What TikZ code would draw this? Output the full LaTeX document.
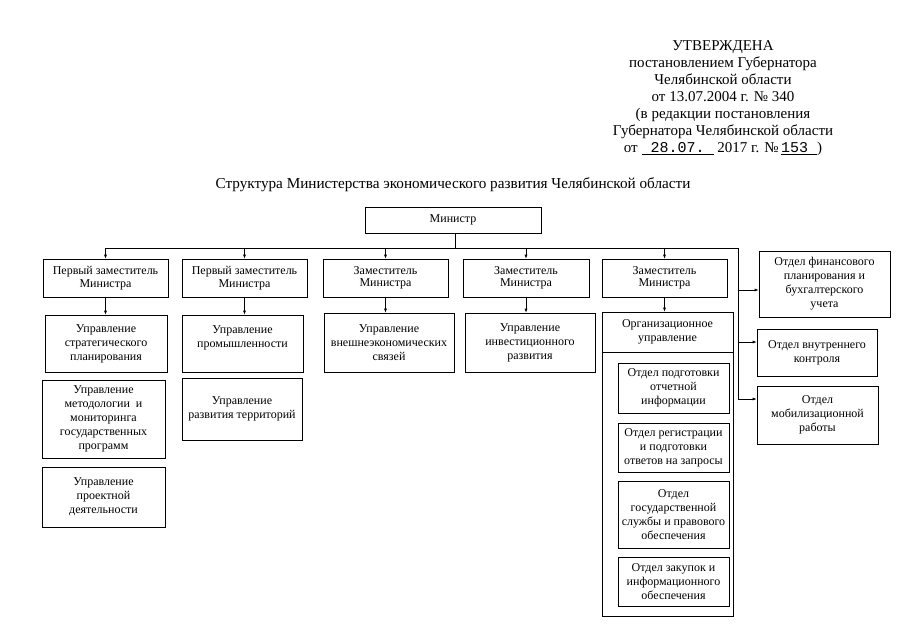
\documentclass[tikz,border=0pt]{standalone}
\usepackage{fontspec}
\setmainfont{Liberation Serif}
\setmonofont{Liberation Mono}
\usetikzlibrary{arrows.meta}
\tikzset{
    every node/.style={align=center, font=\fontsize{12}{14}\selectfont}
}
\tikzset{
    box/.style={draw, line width=0.6pt, inner sep=1pt}
}
\tikzset{
    every path/.append style={line width=0.6pt}
}

\begin{document}
\begin{tikzpicture}[x=1pt, y=-1pt, >={Latex[length=4pt,width=3pt]}]
	\useasboundingbox (0,0) rectangle (905,640);
	\node (head) [font=\fontsize{15}{17}\selectfont] at (723,98.5) {УТВЕРЖДЕНА\\ постановлением Губернатора\\ Челябинской области\\ от 13.07.2004 г. № 340\\ (в редакции постановления\\ Губернатора Челябинской области\\ от \underline{\texttt{\ 28.07.\ }} 2017 г. №\,\underline{\texttt{153\ }})};
	\node (title) [font=\fontsize{15.2}{17}\selectfont] at (453,185) {Структура Министерства экономического развития Челябинской области};

	\node (min) [box, minimum width=176, minimum height=26] at (453,220) {Министр};

	\node (d1) [box, minimum width=125, minimum height=38, font=\fontsize{12}{12.5}\selectfont] at (105.5,278) {Первый заместитель\\ Министра};
	\node (d2) [box, minimum width=125, minimum height=38, font=\fontsize{12}{12.5}\selectfont] at (244.5,278) {Первый заместитель\\ Министра};
	\node (d3) [box, minimum width=125, minimum height=38, font=\fontsize{12}{12.5}\selectfont] at (385.5,278) {Заместитель\\ Министра};
	\node (d4) [box, minimum width=126, minimum height=38, font=\fontsize{12}{12.5}\selectfont] at (526,278) {Заместитель\\ Министра};
	\node (d5) [box, minimum width=125, minimum height=38, font=\fontsize{12}{12.5}\selectfont] at (664.5,278) {Заместитель\\ Министра};

	\node (u11) [box, minimum width=122, minimum height=57] at (106,343.5) {Управление\\ стратегического\\ планирования};
	\node (u12) [box, minimum width=123, minimum height=78] at (103.5,419) {Управление\\ методологии~ и\\ мониторинга\\ государственных\\ программ};
	\node (u13) [box, minimum width=123, minimum height=60] at (103.5,497) {Управление\\ проектной\\ деятельности};
	\node (u21) [box, minimum width=121, minimum height=57] at (242.5,343.5) {Управление\\ промышленности\\ ~};
	\node (u22) [box, minimum width=120, minimum height=62] at (242,409) {Управление\\ развития территорий};
	\node (u31) [box, minimum width=130, minimum height=59] at (389,342.5) {Управление\\ внешнеэкономических\\ связей};
	\node (u41) [box, minimum width=130, minimum height=59] at (530,342.5) {Управление\\ инвестиционного\\ развития};

	\node (orgbox) [box, minimum width=131, minimum height=304] at (667.5,464) {};
	\node (org) [minimum width=131, minimum height=40] at (667.5,332) {Организационное\\ управление};
	\node (o1) [box, minimum width=111, minimum height=50] at (673.5,388) {Отдел подготовки\\ отчетной\\ информации};
	\node (o2) [box, minimum width=111, minimum height=49] at (673.5,447.5) {Отдел регистрации\\ и подготовки\\ ответов на запросы};
	\node (o3) [box, minimum width=111, minimum height=67] at (673.5,514.5) {Отдел\\ государственной\\ службы и правового\\ обеспечения};
	\node (o4) [box, minimum width=111, minimum height=49] at (673.5,581.5) {Отдел закупок и\\ информационного\\ обеспечения};

	\node (fin) [box, minimum width=131, minimum height=66] at (824.5,284) {Отдел финансового\\ планирования и\\ бухгалтерского\\ учета};
	\node (ctrl) [box, minimum width=120, minimum height=47] at (817,352.5) {Отдел внутреннего\\ контроля};
	\node (mob) [box, minimum width=121, minimum height=58] at (817.5,415) {Отдел\\ мобилизационной\\ работы};

	\coordinate (j) at (455,248);
	\coordinate (r) at (738,248);
	\coordinate (r1) at (738,290);
	\coordinate (r2) at (738,342);
	\coordinate (r3) at (738,399);

	\draw (org.south west) -- (org.south east);
	\draw (min.south -| j) -- (j) -- (r) -- (r3);
	\draw[->] (j) -| (d1.north); \draw[->] (j) -| (d2.north); \draw[->] (j) -| (d3.north);
	\draw[->] (j) -| (d4.north); \draw[->] (j) -| (d5.north);

	\draw[->] (d1.south) -- (d1.south |- u11.north); \draw[->] (d2.south) -- (d2.south |- u21.north);
	\draw[->] (d3.south) -- (d3.south |- u31.north); \draw[->] (d4.south) -- (d4.south |- u41.north);
	\draw[->] (d5.south) -- (d5.south |- orgbox.north);

	\draw[->] (r1) -- (r1 -| fin.west); \draw[->] (r2) -- (r2 -| ctrl.west);
	\draw[->] (r3) -- (r3 -| mob.west);
\end{tikzpicture}
\end{document}
